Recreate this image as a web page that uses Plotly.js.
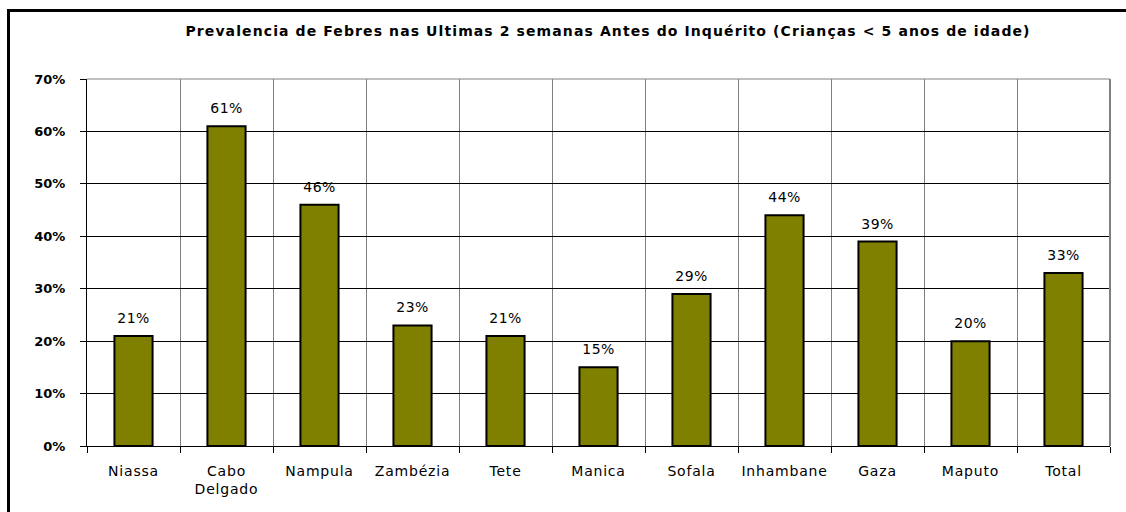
<!DOCTYPE html>
<html><head><meta charset="utf-8">
<script src="https://cdn.plot.ly/plotly-3.0.1.min.js"></script>
<style>
html,body{margin:0;padding:0;background:#fff;overflow:hidden;}
#frame{position:absolute;left:7px;top:9px;width:1200px;height:600px;border-left:3px solid #000;border-top:3px solid #000;pointer-events:none;z-index:5;}
#chart{position:absolute;left:0;top:0;width:1126px;height:512px;}
#chart .gtitle{letter-spacing:1.1px;}
#chart .xtick text{letter-spacing:0.8px;}
#chart .annotation-text{letter-spacing:0.5px;}
</style></head>
<body>
<div id="chart"></div>
<div id="frame"></div>
<script>
const categories = ["Niassa","Cabo<br>Delgado","Nampula","Zambézia","Tete","Manica","Sofala","Inhambane","Gaza","Maputo","Total"];
const values = [21,61,46,23,21,15,29,44,39,20,33];
const labels = ["21%","61%","46%","23%","21%","15%","29%","44%","39%","20%","33%"];
const yTicks = [0,10,20,30,40,50,60,70];
const yTickText = ["0%","10%","20%","30%","40%","50%","60%","70%"];
const titleText = "Prevalencia de Febres nas Ultimas 2 semanas Antes do Inquérito (Crianças < 5 anos de idade)";

const font = "'DejaVu Sans', sans-serif";
const annotations = categories.map((c,i)=>({
  x:c, y:values[i], xref:'x', yref:'y', text:labels[i], showarrow:false,
  yanchor:'middle', yshift:18, font:{family:font,size:14,color:'#000'}
}));
Plotly.newPlot('chart', [{
  type:'bar', x:categories, y:values,
  marker:{color:'#808000',line:{color:'#000',width:2}},
  hoverinfo:'none'
}], {
  width:1126, height:512,
  margin:{l:87,r:16,t:79,b:66},
  paper_bgcolor:'#fff', plot_bgcolor:'#fff',
  bargap:0.59,
  showlegend:false,
  annotations:annotations,
  title:{text:'<b>'+titleText+'</b>', font:{family:font,size:14,color:'#000'}, x:0.54, xanchor:'center', y:0.94, yanchor:'middle'},
  xaxis:{type:'category', tickson:'boundaries', ticks:'outside', ticklen:6, tickcolor:'#000',
    showgrid:true, gridcolor:'#808080', gridwidth:1, showline:true, linecolor:'#000', linewidth:1,
    ticklabelstandoff:12,
    tickfont:{family:font,size:14,color:'#000'}, fixedrange:true},
  yaxis:{range:[0,70], tickvals:yTicks, ticktext:yTickText, ticks:'outside', ticklen:6, tickcolor:'#000',
    showgrid:true, gridcolor:'#000', gridwidth:1, showline:true, linecolor:'#000', linewidth:1,
    ticklabelstandoff:12,
    zeroline:false, tickfont:{family:font,size:13,color:'#000',weight:'bold'}, fixedrange:true},
  shapes:[
    {type:'line', xref:'paper', yref:'paper', x0:1, x1:1, y0:0, y1:1, line:{color:'#808080',width:2}},
    {type:'line', xref:'paper', yref:'paper', x0:0, x1:1, y0:1, y1:1, line:{color:'#808080',width:1}}
  ]
}, {staticPlot:true});
</script>
</body></html>
